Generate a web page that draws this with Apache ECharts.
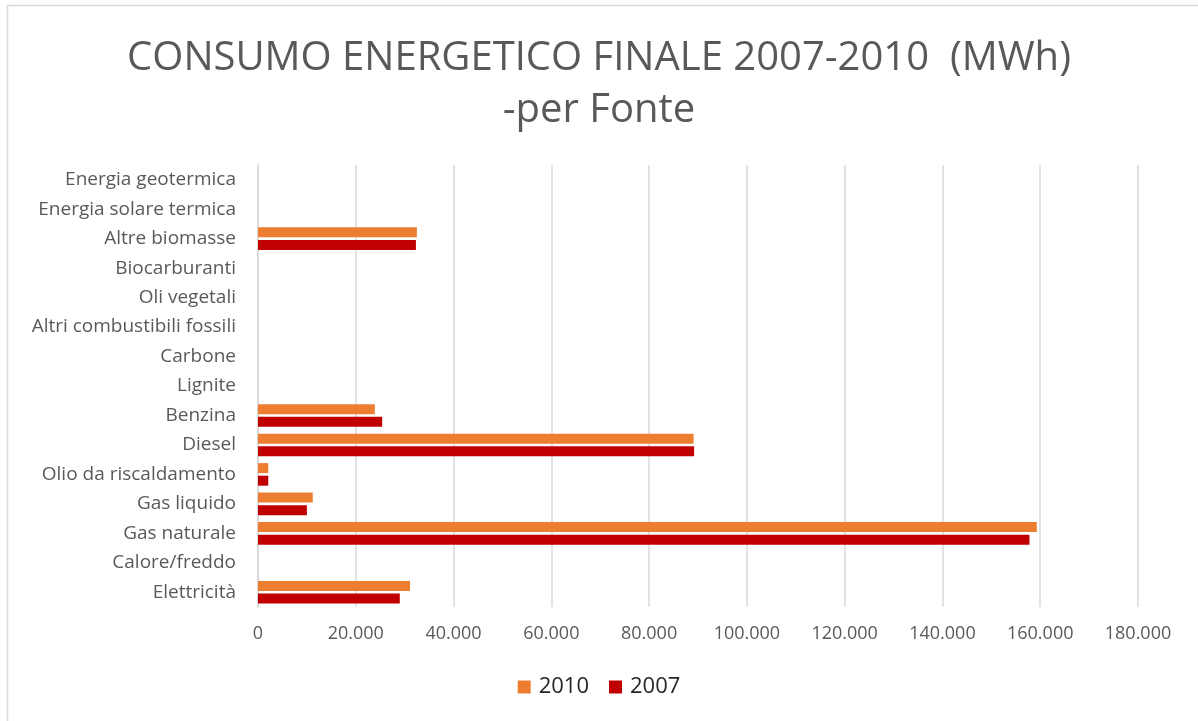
<!DOCTYPE html>
<html>
<head>
<meta charset="utf-8">
<script src="https://cdn.jsdelivr.net/npm/echarts@6/dist/echarts.min.js"></script>
<style>
  html, body { margin: 0; padding: 0; background: #fff; }
  #chart { width: 1198px; height: 721px; }
</style>
</head>
<body>
<div id="chart"></div>
<script>
// categorie dal basso verso l'alto (come sull'asse)
var categories = ['Elettricità', 'Calore/freddo', 'Gas naturale', 'Gas liquido', 'Olio da riscaldamento',
    'Diesel', 'Benzina', 'Lignite', 'Carbone', 'Altri combustibili fossili', 'Oli vegetali',
    'Biocarburanti', 'Altre biomasse', 'Energia solare termica', 'Energia geotermica'];
var values2010 = [31100, 0, 159300, 11200, 2100, 89100, 23900, 0, 0, 0, 0, 0, 32500, 0, 0];
var values2007 = [29000, 0, 157800, 10000, 2100, 89200, 25400, 0, 0, 0, 0, 0, 32300, 0, 0];
var seriesNames = ['2010', '2007'];
var seriesColors = { '2010': '#ED7D31', '2007': '#C00000' };

var FONT = '"Open Sans", sans-serif';

function fmt(v) { //separatore migliaia all'italiana
    return String(v).replace(/\B(?=(\d{3})+(?!\d))/g, '.');
}

var chart = echarts.init(document.getElementById('chart'));
var option = {
    backgroundColor: '#fff',
    animation: false,
    title: {
        text: 'CONSUMO ENERGETICO FINALE 2007-2010  (MWh)\n-per Fonte',
        left: 'center',
        top: 28,
        textStyle: { fontFamily: FONT, fontSize: 40, fontWeight: 'normal', color: '#595959', lineHeight: 52 }
    },
    legend: {
        data: seriesNames,
        bottom: 18,
        left: 'center',
        itemWidth: 13,
        itemHeight: 13,
        itemGap: 20,
        icon: 'rect',
        textStyle: { fontFamily: FONT, fontSize: 22, color: '#262626', padding: [0, 0, 0, 3] }
    },
    grid: { left: 258, right: 60, top: 165, bottom: 114 },
    xAxis: {
        type: 'value',
        min: 0,
        max: 180000,
        interval: 20000,
        axisLine: { show: false },
        axisTick: { show: false },
        splitLine: { lineStyle: { color: '#d9d9d9', width: 1.5 } },
        axisLabel: { formatter: fmt, fontFamily: FONT, fontSize: 18, color: '#595959', margin: 18 }
    },
    yAxis: {
        type: 'category',
        data: categories,
        axisLine: { lineStyle: { color: '#d9d9d9', width: 1.5 } },
        axisTick: { show: false },
        axisLabel: { fontFamily: FONT, fontSize: 19, color: '#595959', margin: 22, interval: 0 }
    },
    series: [
        { name: '2010', type: 'bar', data: values2010, barWidth: 10, barGap: '26%',
          itemStyle: { color: seriesColors['2010'] } },
        { name: '2007', type: 'bar', data: values2007, barWidth: 10, barGap: '26%',
          itemStyle: { color: seriesColors['2007'] } }
    ],
    graphic: [{
        type: 'rect',
        shape: { x: 7.5, y: 5.5, width: 1300, height: 800 },
        style: { fill: 'none', stroke: '#d9d9d9', lineWidth: 1.5 },
        silent: true
    }]
};
chart.setOption(option);
window.onresize = function () { chart.resize(); };
</script>
</body>
</html>
